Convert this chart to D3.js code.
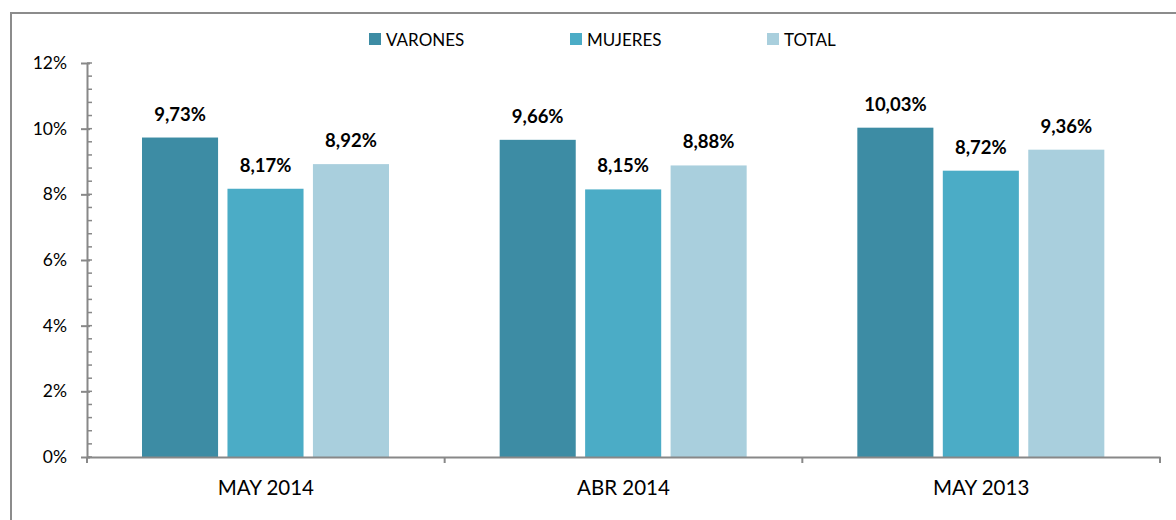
<!DOCTYPE html>
<html>
<head>
<meta charset="utf-8">
<script src="https://cdn.jsdelivr.net/npm/d3@7"></script>
<style>
  body { margin: 0; background: #fff; }
  svg { display: block; font-family: Lato, "Open Sans", sans-serif; }
</style>
</head>
<body>
<svg id="chart" width="1176" height="520"></svg>
<script>
// datos del gráfico
const periodos = ['MAY 2014', 'ABR 2014', 'MAY 2013'];
const series = ['VARONES', 'MUJERES', 'TOTAL'];
const varones = [9.73, 9.66, 10.03];
const mujeres = [8.17, 8.15, 8.72];
const total = [8.92, 8.88, 9.36];
const yTicks = [0, 2, 4, 6, 8, 10, 12];
const colores = ['#3d8ca4', '#4bacc6', '#a9cfdd'];

const valores = [varones, mujeres, total];
const svg = d3.select('#chart');

// marco exterior
svg.append('rect')
  .attr('x', 11).attr('y', 13)
  .attr('width', 1200).attr('height', 600)
  .attr('fill', 'none')
  .attr('stroke', '#8c8c8c')
  .attr('stroke-width', 2);

// área de trazado
const margin = { top: 63, left: 87, right: 16, bottom: 63 };
const width = 1176 - margin.left - margin.right;
const height = 520 - margin.top - margin.bottom;
const g = svg.append('g').attr('transform', `translate(${margin.left},${margin.top})`);

const x0 = d3.scaleBand().domain(periodos).range([0, width]);
const x1 = d3.scaleBand().domain(series).range([55, 55 + 247]).paddingInner(0.11);
const y = d3.scaleLinear().domain([0, 12]).range([height, 0]);

// barras
periodos.forEach((p, i) => {
  const grp = g.append('g').attr('transform', `translate(${x0(p)},0)`);
  series.forEach((s, j) => {
    const v = valores[j][i];
    grp.append('rect')
      .attr('x', x1(s))
      .attr('y', y(v))
      .attr('width', x1.bandwidth())
      .attr('height', y(0) - y(v))
      .attr('fill', colores[j]);
    grp.append('text')
      .attr('x', x1(s) + x1.bandwidth() / 2)
      .attr('y', y(v) - 17)
      .attr('text-anchor', 'middle')
      .attr('font-size', 18.5)
      .attr('font-weight', 'bold')
      .attr('fill', '#000')
      .text(d3.format('.2f')(v).replace('.', ',') + '%');
  });
});

// eje Y: ticks menores
const minor = d3.range(0, 12.001, 0.4);
g.append('g').selectAll('line').data(minor).join('line')
  .attr('x1', 0).attr('x2', 5)
  .attr('y1', d => y(d)).attr('y2', d => y(d))
  .attr('stroke', '#888').attr('stroke-width', 1.5);

const yAxis = g.append('g')
  .call(d3.axisLeft(y).tickValues(yTicks).tickSize(6).tickSizeOuter(0).tickFormat(d => d + '%'));
yAxis.select('.domain').attr('stroke', '#888').attr('stroke-width', 2);
yAxis.selectAll('.tick line').attr('stroke', '#888').attr('stroke-width', 2).attr('x2', -6).attr('x1', 3);
yAxis.selectAll('.tick text')
  .attr('x', -20)
  .attr('font-size', 17.5)
  .attr('font-family', 'Lato, "Open Sans", sans-serif')
  .attr('fill', '#000');

// eje X
const xAxis = g.append('g')
  .attr('transform', `translate(0,${height})`)
  .call(d3.axisBottom(x0).tickSize(0).tickSizeOuter(0));
xAxis.select('.domain').attr('stroke', '#888').attr('stroke-width', 2);
xAxis.selectAll('.tick text')
  .attr('dy', 0).attr('y', 38)
  .attr('font-size', 20.5)
  .attr('font-family', 'Lato, "Open Sans", sans-serif')
  .attr('fill', '#000');
g.append('g').selectAll('line').data(d3.range(periodos.length + 1)).join('line')
  .attr('x1', d => d * x0.step()).attr('x2', d => d * x0.step())
  .attr('y1', height).attr('y2', height + 6)
  .attr('stroke', '#888').attr('stroke-width', 2);

// leyenda
const legX = [369, 570, 767];
const leg = svg.append('g').selectAll('g').data(series).join('g')
  .attr('transform', (d, i) => `translate(${legX[i]},33)`);
leg.append('rect').attr('width', 12).attr('height', 12).attr('fill', (d, i) => colores[i]);
leg.append('text')
  .attr('x', 17).attr('y', 12.5)
  .attr('font-size', 17)
  .attr('fill', '#000')
  .text(d => d);
</script>
</body>
</html>
